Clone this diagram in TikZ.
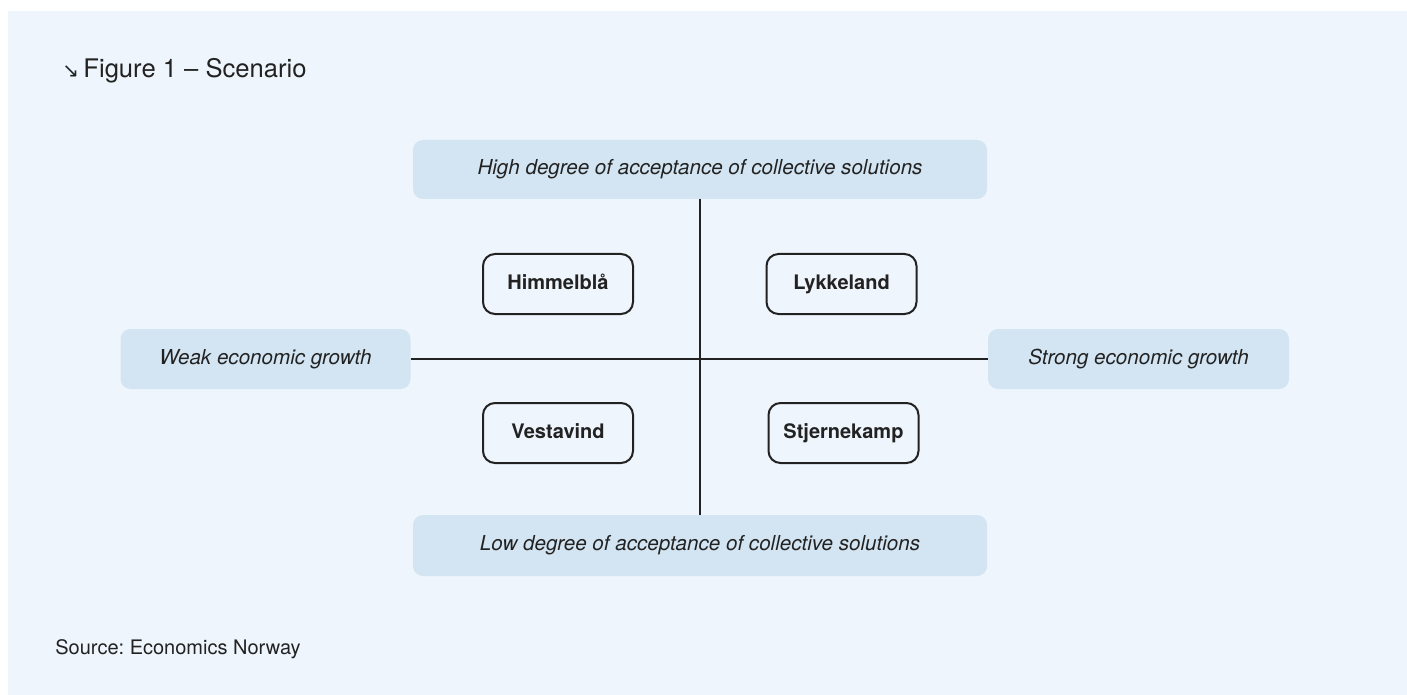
\documentclass[tikz,border=0pt]{standalone}
\usepackage{fontspec}
\setmainfont{TeX Gyre Heros}
\newfontfamily\arrowfont{DejaVu Sans}
\definecolor{panel}{HTML}{EEF5FC}
\definecolor{axisfill}{HTML}{D3E5F2}
\definecolor{ink}{HTML}{222222}
\frenchspacing

\begin{document}
\begin{tikzpicture}[x=0.5pt, y=-0.5pt, auto,
    axis/.style={fill=axisfill, rounded corners=5pt, inner sep=0pt, text=ink,
      font=\fontsize{10.3}{12}\selectfont\itshape},
    scen/.style={draw=ink, line width=1pt, rounded corners=6pt, inner sep=0pt, text=ink,
      text height=7.6pt, text depth=2.2pt,
      minimum width=75pt, minimum height=30pt, font=\fontsize{10}{12}\selectfont\bfseries}]

    \useasboundingbox (0,0) rectangle (1407,695);
    \fill[white] (0,0) rectangle (1407,695);
    \fill[panel] (8,11) rectangle (1407,695);

    \node[anchor=base west, text=ink, inner sep=0pt, font=\fontsize{12.8}{14}\selectfont] (t) at (62,78) {{\arrowfont\fontsize{10}{12}\selectfont ↘}\,Figure 1 – Scenario};
    \node[anchor=base west, text=ink, inner sep=0pt, font=\fontsize{10}{12}\selectfont] (s) at (55,654) {Source: Economics Norway};

    \node[axis, minimum width=287pt, minimum height=29.5pt] (a) at (700, 169.5) {High degree of acceptance of collective solutions};
    \node[axis, minimum width=287pt, minimum height=30.5pt] (b) at (700, 545.5) {Low degree of acceptance of collective solutions};
    \node[axis, minimum width=145pt, minimum height=30pt] (c) at (265.5, 359) {Weak economic growth};
    \node[axis, minimum width=150.5pt, minimum height=30pt] (d) at (1138.5, 359) {Strong economic growth};

    \node[scen] (e) at (558, 284) {Himmelblå};
    \node[scen] (f) at (841.5, 284) {Lykkeland};
    \node[scen] (g) at (558, 433) {Vestavind};
    \node[scen] (h) at (843.5, 433) {Stjernekamp};

    \draw [ink, line width=0.6pt] (a) to (b);
    \draw [ink, line width=0.6pt] (c) to (d);

  \end{tikzpicture}
\end{document}
